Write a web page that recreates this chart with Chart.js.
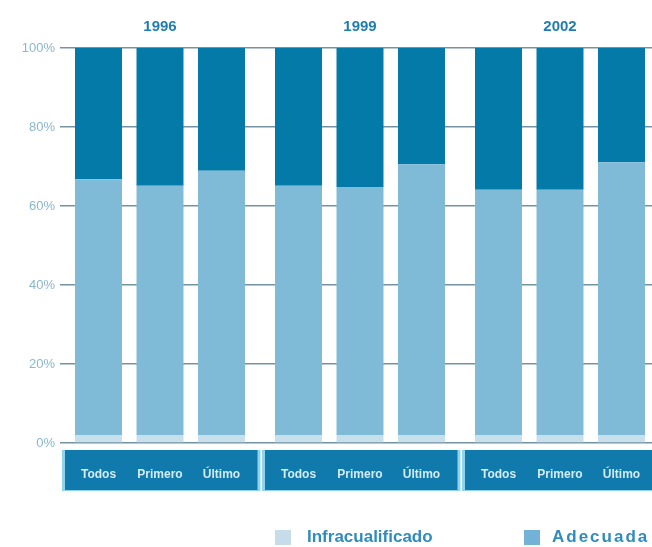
<!DOCTYPE html>
<html>
<head>
<meta charset="utf-8">
<script src="https://cdn.jsdelivr.net/npm/chart.js@4"></script>
<style>
  body { margin: 0; width: 652px; height: 547px; overflow: hidden; background: #fff; font-family: "Liberation Sans", Arial, sans-serif; }
  #wrap { position: absolute; left: 0; top: 0; width: 700px; height: 547px; }
  .leg { position: absolute; top: 527px; display: flex; align-items: center; font-weight: bold; font-size: 17px; color: #2f8cbf; white-space: nowrap; }
  .leg span.box { display: inline-block; width: 16px; height: 15px; margin-right: 16px; }
</style>
</head>
<body>
<div id="wrap"><canvas id="chart" width="700" height="547"></canvas></div>
<div class="leg" style="left:275px"><span class="box" style="background:#c6dcea"></span>Infracualificado</div>
<div class="leg" style="left:524px; letter-spacing:2px"><span class="box" style="background:#72b2d6; margin-right:12px"></span>Adecuada</div>
<script>
// años (eje superior) y grupos dentro de cada año
const years = ['1996', '1999', '2002']
const groups = ['Todos', 'Primero', 'Último']
const yTicks = [0, 20, 40, 60, 80, 100]

// porcentajes por grupo; cada fila: 1996, 1999, 2002
const infracualificado = {
  Todos: [2, 2, 2],
  Primero: [2, 2, 2],
  'Último': [2, 2, 2]
}
const adecuada = {
  Todos: [64.8, 63.1, 62.1],
  Primero: [63.1, 62.8, 62.1],
  'Último': [66.9, 68.6, 69.1]
}
const sobrecualificado = {
  Todos: [33.2, 34.9, 35.9],
  Primero: [34.9, 35.2, 35.9],
  'Último': [31.1, 29.4, 28.9]
}

const series = [
  { label: 'Infracualificado', values: infracualificado, color: '#c8e0ec' },
  { label: 'Adecuada', values: adecuada, color: '#7fbad7' },
  { label: 'Sobrecualificado', values: sobrecualificado, color: '#037aa7' }
]

const datasets = []
groups.forEach(g => {
  series.forEach(s => {
    datasets.push({
      label: s.label,
      data: s.values[g],
      backgroundColor: s.color,
      stack: g,
      categoryPercentage: 0.9225,
      barPercentage: 0.764
    })
  })
})

// paneles azules con los nombres de grupo bajo el eje
const groupPanels = {
  id: 'groupPanels',
  afterDraw(chart) {
    const ctx = chart.ctx
    const x = chart.scales.x
    const area = chart.chartArea
    const catW = (x.right - x.left) / years.length
    ctx.save()
    years.forEach((yr, i) => {
      const cx = x.getPixelForValue(i)
      const left = cx - catW / 2 + 5
      const right = cx + catW / 2 - 2.5
      ctx.fillStyle = '#8fd3ec'
      ctx.fillRect(left - 3, area.bottom + 7, right - left + 6, 41)
      ctx.fillStyle = '#0f7aab'
      ctx.fillRect(left, area.bottom + 7, right - left, 40)
      ctx.fillStyle = '#d3ecf7'
      ctx.font = 'bold 12px "Liberation Sans", Arial, sans-serif'
      ctx.textAlign = 'center'
      ctx.textBaseline = 'middle'
      groups.forEach((g, gi) => {
        const bar = chart.getDatasetMeta(gi * series.length).data[i]
        ctx.fillText(g, bar.x, area.bottom + 32)
      })
    })
    ctx.restore()
  }
}

new Chart(document.getElementById('chart'), {
  type: 'bar',
  data: { labels: years, datasets: datasets },
  options: {
    responsive: false,
    animation: false,
    layout: { padding: { top: 12, right: 40, bottom: 104, left: 0 } },
    plugins: { legend: { display: false }, tooltip: { enabled: false } },
    scales: {
      x: {
        position: 'top',
        stacked: true,
        grid: { display: false },
        border: { display: false },
        ticks: { color: '#1f7eb0', padding: 4, font: { size: 15, weight: 'bold', family: '"Liberation Sans", Arial, sans-serif' } },
        afterFit: s => { s.height = 36 }
      },
      y: {
        stacked: true,
        min: 0,
        max: 100,
        afterBuildTicks: s => { s.ticks = yTicks.map(v => ({ value: v })) },
        grid: { color: '#7393a2', lineWidth: 1.6, drawTicks: false },
        border: { display: false },
        ticks: { color: '#8ab7cd', padding: 5, callback: v => v + '%', font: { size: 13, family: '"Liberation Sans", Arial, sans-serif' } },
        afterFit: s => { s.width = 60 }
      }
    }
  },
  plugins: [groupPanels]
})
</script>
</body>
</html>
